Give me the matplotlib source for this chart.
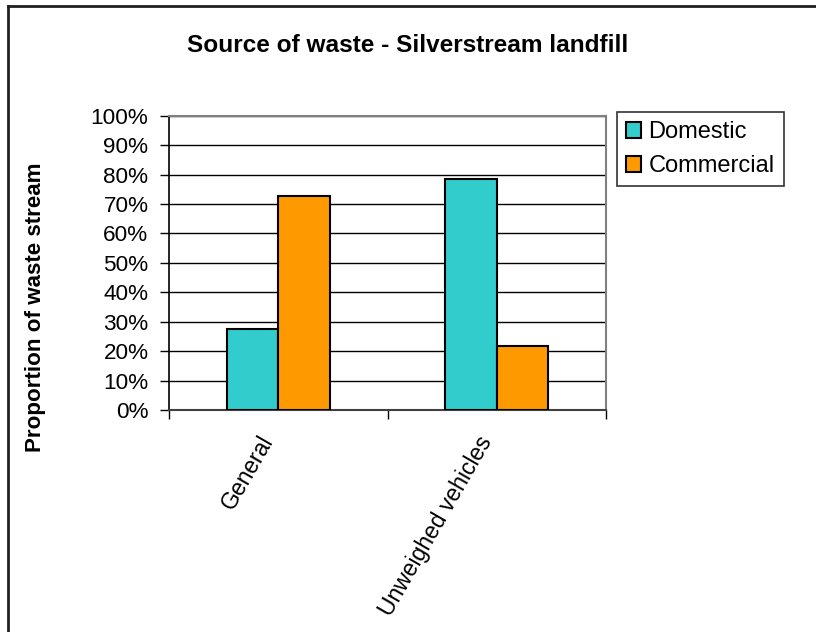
import matplotlib
matplotlib.use("Agg")
import matplotlib.pyplot as plt
from matplotlib.lines import Line2D
import numpy as np

categories = ["General", "Unweighed vehicles"]
series_names = ["Domestic", "Commercial"]
domestic = [27.4, 78.4]
commercial = [72.6, 21.6]
colors = ["#33CCCC", "#FF9900"]
yticks = [0, 10, 20, 30, 40, 50, 60, 70, 80, 90, 100]
ytick_labels = [f"{v}%" for v in yticks]

plt.rcParams['font.family'] = ['Liberation Sans', 'DejaVu Sans']

W, H = 816, 632
fig = plt.figure(figsize=(W / 100, H / 100), dpi=100)
ax = fig.add_axes([169.3 / W, 1 - 410 / H, (605.7 - 169.3) / W, (410 - 115.7) / H])

x = np.arange(len(categories))
bw = 0.237
ax.bar(x - bw / 2, domestic, bw, color=colors[0], edgecolor="black", linewidth=1.5, label=series_names[0], zorder=3)
ax.bar(x + bw / 2, commercial, bw, color=colors[1], edgecolor="black", linewidth=1.5, label=series_names[1], zorder=3)

ax.set_xlim(-0.5, 1.5)
ax.set_ylim(0, 100)
ax.set_yticks(yticks)
ax.set_yticklabels(ytick_labels, fontsize=16.2)
ax.yaxis.grid(True, color="black", linewidth=1.0, zorder=0)
ax.set_axisbelow(True)

ax.set_xticks([-0.5, 0.5, 1.5])
ax.set_xticklabels([])
ax.set_xticks(x, minor=True)
ax.set_xticklabels(categories, minor=True, rotation=60, ha="right", va="bottom",
                   rotation_mode="anchor", fontsize=16.5)
ax.tick_params(axis="x", which="minor", length=0, pad=24)
ax.tick_params(axis="x", which="major", length=6.5, width=1, color="black", direction="out")
ax.tick_params(axis="y", length=6.5, width=1, color="black", direction="out", pad=8.5)

for s in ["top", "right"]:
    ax.spines[s].set_color("#808080")
    ax.spines[s].set_linewidth(1.5)
ax.spines["left"].set_color("black")
ax.spines["bottom"].set_color("#404040")
ax.spines["left"].set_linewidth(1.2)
ax.spines["bottom"].set_linewidth(1.5)

fig.text(0.5, 1 - 45 / H, "Source of waste - Silverstream landfill", ha="center", va="center",
         fontsize=17.6, fontweight="bold")
fig.text(36 / W, 1 - 307 / H, "Proportion of waste stream", ha="center", va="center",
         rotation=90, fontsize=16.1, fontweight="bold")

leg = ax.legend(loc="upper left", bbox_to_anchor=((616.7 - 169.3) / (605.7 - 169.3), 1 + (115.7 - 111.7) / (410 - 115.7)),
                fontsize=17, frameon=True, fancybox=False, edgecolor="black", borderaxespad=0,
                handlelength=0.65, handleheight=0.65, handletextpad=0.3, labelspacing=0.5,
                borderpad=0.4)
leg.get_frame().set_linewidth(1.2)

fig.add_artist(Line2D([8 / W, 8 / W], [0, 1 - 6 / H], color="#202020", linewidth=2, transform=fig.transFigure))
fig.add_artist(Line2D([8 / W, 1], [1 - 6 / H, 1 - 6 / H], color="#202020", linewidth=2, transform=fig.transFigure))

fig.savefig("out.png", dpi=100)
